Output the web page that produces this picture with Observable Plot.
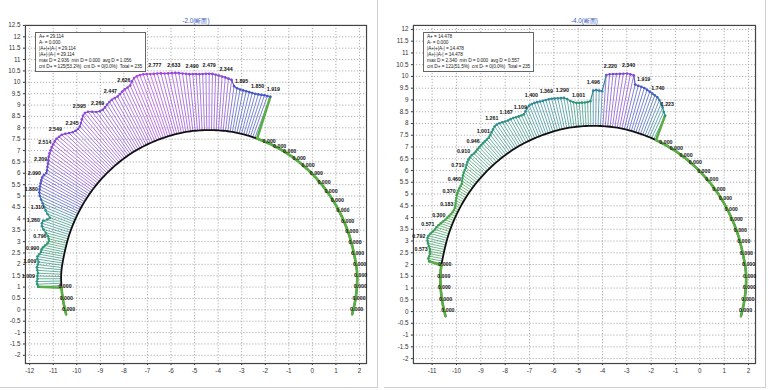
<!DOCTYPE html>
<html><head><meta charset="utf-8">
<script src="https://cdn.jsdelivr.net/npm/d3@7"></script>
<script src="https://cdn.jsdelivr.net/npm/@observablehq/plot@0.6"></script>
<style>
body{margin:0;background:#fff;font-family:"Liberation Sans",Arial,"Noto Sans CJK SC",sans-serif;}
#wrap{position:relative;width:768px;height:390px;overflow:hidden;background:#fff;}
.panel{position:absolute;top:0;height:388px;border-right:1px solid #cfcfcf;border-bottom:1px solid #cfcfcf;box-sizing:border-box;}
.panel svg{position:absolute;left:0;top:0;}
.info{position:absolute;border:1px solid #666;background:#fff;font-size:4.8px;letter-spacing:-0.1px;line-height:6px;padding:1px 3px 1px 3px;white-space:pre;color:#222;font-family:"Liberation Sans",Arial,sans-serif;}
</style></head><body><div id="wrap"></div>
<script>
// ---------------- data ----------------
// design profile vertices, clockwise from bottom-left
const designX = [-10.45,-10.58,-10.65,-10.66,-10.58,-10.30,-9.84,-9.21,-8.43,-7.53,-6.53,-5.47,-4.38,-3.29,-2.23,-1.23,-0.33,0.45,1.08,1.54,1.82,1.90,1.89,1.82,1.69];
const designY = [-0.20,0.40,1.00,1.60,2.20,3.36,4.45,5.44,6.29,6.98,7.48,7.80,7.90,7.80,7.48,6.98,6.29,5.44,4.45,3.36,2.20,1.60,1.00,0.40,-0.20];
const totalStations = 235;
const labelEvery = 5;
const labelOffset = 2;

const titles = ["-2.0(断面)", "-4.0(断面)"];

// left section: overbreak D per station, first D+ station index
const leftStart = 13;
const leftD = [
 0.98,1.02,1.03,1.00,1.009, 0.99,1.02,1.05,1.03,1.009, 1.08,1.10,1.04,0.99,0.990,
 0.95,0.88,0.80,0.76,0.796, 0.86,0.98,1.12,1.22,1.260, 1.25,1.10,1.02,1.18,1.310,
 1.42,1.55,1.68,1.80,1.880, 1.93,1.98,2.02,2.06,2.090, 2.08,2.04,2.08,2.15,2.209,
 2.28,2.36,2.42,2.47,2.514, 2.55,2.58,2.60,2.58,2.549, 2.48,2.38,2.30,2.26,2.245,
 2.28,2.36,2.46,2.55,2.595, 2.56,2.45,2.34,2.28,2.269, 2.30,2.36,2.41,2.44,2.447,
 2.45,2.50,2.56,2.60,2.626, 2.66,2.80,2.90,2.93,2.936, 2.92,2.88,2.84,2.80,2.777,
 2.74,2.70,2.67,2.65,2.633, 2.60,2.56,2.53,2.50,2.490, 2.48,2.47,2.47,2.48,2.479,
 2.47,2.44,2.41,2.37,2.344, 2.30,2.26,2.00,1.93,1.895, 1.88,1.87,1.86,1.85,1.850,
 1.86,1.88,1.90,1.91,1.919
];
// right section
const rightStart = 23;
const rightD = [
 0.52,0.58,0.56,0.55,0.573, 0.60,0.66,0.72,0.77,0.792, 0.78,0.72,0.66,0.60,0.571,
 0.52,0.46,0.40,0.34,0.300, 0.26,0.22,0.19,0.18,0.183, 0.21,0.25,0.29,0.33,0.370,
 0.40,0.42,0.44,0.45,0.460, 0.52,0.58,0.63,0.68,0.710, 0.74,0.80,0.85,0.89,0.910,
 0.92,0.90,0.91,0.93,0.946, 0.96,0.97,0.98,0.99,1.001, 1.05,1.12,1.18,1.24,1.261,
 1.25,1.22,1.19,1.17,1.167, 1.16,1.14,1.12,1.11,1.109, 1.20,1.31,1.37,1.39,1.400,
 1.39,1.38,1.37,1.37,1.369, 1.36,1.34,1.32,1.30,1.290, 1.22,1.12,1.05,1.01,1.001,
 1.00,1.00,1.02,1.05,1.496, 1.52,1.50,1.48,2.18,2.220, 2.24,2.26,2.28,2.31,2.340,
 2.33,2.32,1.95,1.93,1.919, 1.90,1.86,1.82,1.78,1.740, 1.70,1.62,1.50,1.38,1.223,
 1.10
];

const leftXTicks = [-12,-11,-10,-9,-8,-7,-6,-5,-4,-3,-2,-1,0,1,2];
const leftYTicks = [-2,-1.5,-1,-0.5,0,0.5,1,1.5,2,2.5,3,3.5,4,4.5,5,5.5,6,6.5,7,7.5,8,8.5,9,9.5,10,10.5,11,11.5,12,12.5];
const rightXTicks = [-11,-10,-9,-8,-7,-6,-5,-4,-3,-2,-1,0,1,2];
const rightYTicks = [-2,-1.5,-1,-0.5,0,0.5,1,1.5,2,2.5,3,3.5,4,4.5,5,5.5,6,6.5,7,7.5,8,8.5,9,9.5,10,10.5,11,11.5,12];

const infoLeft = ["A+ = 29.114","A- = 0.000","|A+|+|A-| = 29.114","|A+|-|A-| = 29.114",
  "max D = 2.936  min D = 0.000  avg D = 1.056","cnt D+ = 125(53.2%)  cnt D- = 0(0.0%)  Total = 235"];
const infoRight = ["A+ = 14.478","A- = 0.000","|A+|+|A-| = 14.478","|A+|-|A-| = 14.478",
  "max D = 2.340  min D = 0.000  avg D = 0.557","cnt D+ = 121(51.5%)  cnt D- = 0(0.0%)  Total = 235"];

const colorDomain = [0, 0.5, 1.0, 1.4, 1.9, 2.3, 2.9];
const colorRange = ["#5aae45","#3c9e52","#2e9478","#2e8898","#4654c4","#8048d0","#a844dc"];

// ---------------- geometry ----------------
function computeStations(){
  const ns = "http://www.w3.org/2000/svg";
  const svg = document.createElementNS(ns,"svg");
  svg.setAttribute("style","position:absolute;visibility:hidden;width:0;height:0");
  document.body.appendChild(svg);
  const path = document.createElementNS(ns,"path");
  const pts = designX.map((x,i)=>[x*100, -designY[i]*100]);
  path.setAttribute("d", d3.line().curve(d3.curveCatmullRom)(pts));
  svg.appendChild(path);
  const L = path.getTotalLength();
  const st = [];
  for (let i=0;i<totalStations;i++){
    const p = path.getPointAtLength(L*i/(totalStations-1));
    st.push([p.x/100, -p.y/100]);
  }
  svg.remove();
  const k = 3;
  return st.map((p,i)=>{
    const a = st[Math.max(0,i-k)], b = st[Math.min(st.length-1,i+k)];
    let tx=b[0]-a[0], ty=b[1]-a[1]; const n=Math.hypot(tx,ty); tx/=n; ty/=n;
    return {i, x:p[0], y:p[1], nx:-ty, ny:tx};
  });
}
const ST = computeStations();

function makePanel(cfg){
  const {left, width, mL, mR, mT, mB, xDom, yDom, xTicks, yTicks, start, Dv, title, info, infoPos} = cfg;
  const height = 388;
  const kx = (width-mL-mR)/(xDom[1]-xDom[0]);
  const ky = (height-mT-mB)/(yDom[1]-yDom[0]);
  const rows = ST.map(s=>{
    const j = s.i - start;
    const D = (j>=0 && j<Dv.length) ? Dv[j] : 0;
    return {...s, D, ox: s.x + D*s.nx, oy: s.y + D*s.ny};
  });
  const pos = rows.filter(r=>r.D>0);
  const segs = rows.slice(0,-1).map((r,i)=>({x1:r.ox,y1:r.oy,x2:rows[i+1].ox,y2:rows[i+1].oy,D:Math.min(r.D,rows[i+1].D)}));
  const segZero = segs.filter(s=>s.D===0), segPos = segs.filter(s=>s.D>0);
  const labels = rows.filter(r=>r.i%labelEvery===labelOffset).map(r=>{
    let lx, ly;
    if (r.D>0){ lx = r.ox + r.nx*9/kx; ly = r.oy + r.ny*8/ky; }
    else { lx = r.ox + 3.5/kx; ly = r.oy + 1/ky; }
    return {lx, ly, t: r.D.toFixed(3)};
  });
  const fmt = d => String(Math.round(d*10)/10);
  const plot = Plot.plot({
    width, height, marginLeft:mL, marginRight:mR, marginTop:mT, marginBottom:mB,
    x:{domain:xDom, ticks:xTicks, tickFormat:fmt, tickSize:2, tickPadding:3, label:null},
    y:{domain:yDom, ticks:yTicks, tickFormat:fmt, tickSize:2, tickPadding:3, label:null},
    color:{type:"linear", domain:colorDomain, range:colorRange},
    style:{fontFamily:"Liberation Sans, Arial, sans-serif", fontSize:"6.3px", color:"#333", background:"transparent", overflow:"visible"},
    marks:[
      Plot.gridX(xTicks,{stroke:"#9a9a9a", strokeOpacity:0.8, strokeDasharray:"1.2,1.8"}),
      Plot.gridY(yTicks,{stroke:"#9a9a9a", strokeOpacity:0.8, strokeDasharray:"1.2,1.8"}),
      Plot.frame({stroke:"#444", strokeWidth:1.2}),
      Plot.link(pos,{x1:"x",y1:"y",x2:"ox",y2:"oy",stroke:"D",strokeWidth:0.85,strokeOpacity:0.85}),
      Plot.line(rows,{x:"x",y:"y",stroke:"#111",strokeWidth:1.8}),
      Plot.link(segPos,{x1:"x1",y1:"y1",x2:"x2",y2:"y2",stroke:"D",strokeWidth:1.2}),
      Plot.link(segZero,{x1:"x1",y1:"y1",x2:"x2",y2:"y2",stroke:"D",strokeWidth:2.6,strokeLinecap:"round"}),
      Plot.dot(pos,{x:"ox",y:"oy",fill:"D",r:1.3}),
      Plot.text(labels,{x:"lx",y:"ly",text:"t",fontSize:5.3,fontWeight:"bold",fill:"#111"}),
      Plot.text([title],{frameAnchor:"top",dy:-7,fill:"#3a5cc0",fontSize:6.3})
    ]
  });
  const div = document.createElement("div");
  div.className = "panel";
  div.style.left = left+"px"; div.style.width = width+"px";
  div.appendChild(plot);
  const box = document.createElement("div");
  box.className = "info";
  box.style.left = infoPos[0]+"px"; box.style.top = infoPos[1]+"px";
  box.textContent = info.join("\n");
  div.appendChild(box);
  document.getElementById("wrap").appendChild(div);
}

makePanel({left:0, width:378, mL:25, mR:11, mT:25, mB:24, xDom:[-12.18,2.30], yDom:[-2.36,12.5],
  xTicks:leftXTicks, yTicks:leftYTicks, start:leftStart, Dv:leftD, title:titles[0], info:infoLeft, infoPos:[35,32]});
makePanel({left:384, width:382, mL:29, mR:10, mT:25, mB:24, xDom:[-11.77,2.29], yDom:[-2.21,12.17],
  xTicks:rightXTicks, yTicks:rightYTicks, start:rightStart, Dv:rightD, title:titles[1], info:infoRight, infoPos:[39,32]});
</script></body></html>
